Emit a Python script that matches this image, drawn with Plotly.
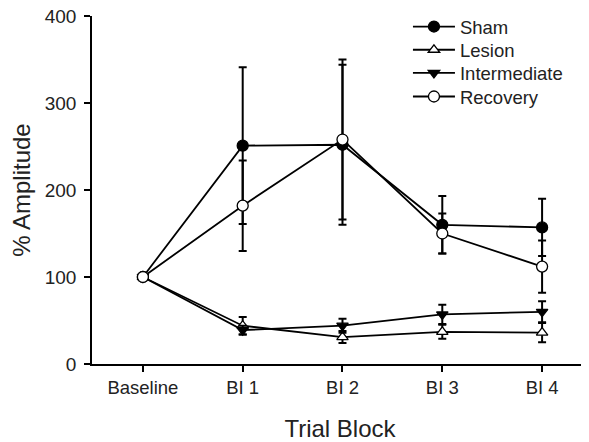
import plotly.graph_objects as go

categories = ["Baseline", "BI 1", "BI 2", "BI 3", "BI 4"]
x_pos = [0, 1, 2, 3, 4]

sham = [100, 251, 252, 160, 157]
sham_err = [0, 90, 92, 33, 33]

lesion = [100, 44, 31, 37, 36]
lesion_err = [0, 10, 7, 8, 11]

intermediate = [100, 39, 44, 57, 60]
intermediate_err = [0, 5, 8, 11, 12]

recovery = [100, 182, 258, 150, 112]
recovery_err = [0, 52, 92, 23, 30]

y_ticks = [0, 100, 200, 300, 400]

series = [
    ("Sham", sham, sham_err, "circle", "black"),
    ("Lesion", lesion, lesion_err, "triangle-up", "white"),
    ("Intermediate", intermediate, intermediate_err, "triangle-down", "black"),
    ("Recovery", recovery, recovery_err, "circle", "white"),
]

font_family = "Liberation Sans, Arial, sans-serif"
legend_ids = ["legend", "legend2", "legend3", "legend4"]
legend_y = [1.0215, 0.9535, 0.887, 0.8195]

fig = go.Figure()
for (name, vals, errs, sym, fill), lid in zip(series, legend_ids):
    fig.add_trace(go.Scatter(
        x=x_pos, y=vals, name=name, mode="lines+markers",
        legend=lid,
        line=dict(color="black", width=1.8),
        marker=dict(symbol=sym, size=11 if sym == "circle" else 10, color=fill,
                    line=dict(color="black", width=1.3)),
        error_y=dict(type="data", array=errs, visible=True, color="black",
                     thickness=2, width=4),
    ))

legend_layout = {}
for lid, ly in zip(legend_ids, legend_y):
    legend_layout[lid] = dict(
        x=0.637, y=ly, xanchor="left", yanchor="top",
        font=dict(size=18.5, family=font_family, color="#222"),
        bgcolor="rgba(0,0,0,0)", itemwidth=42)

fig.update_layout(
    width=581, height=434,
    margin=dict(l=84, r=1, t=7, b=78),
    paper_bgcolor="white", plot_bgcolor="white",
    font=dict(family=font_family, color="#222", size=19),
    showlegend=True,
    xaxis=dict(range=[-0.51, 4.46], tickmode="array", tickvals=x_pos,
               ticktext=categories, showline=True, linecolor="black",
               linewidth=1.5, ticks="outside", ticklen=6, tickwidth=1.5,
               tickcolor="black", showgrid=False, zeroline=False,
               automargin=False, tickfont=dict(size=18.5),
               ticklabeloverflow="allow",
               title=dict(text="Trial Block", font=dict(size=24), standoff=25)),
    yaxis=dict(range=[0, 400], tickmode="array", tickvals=y_ticks,
               showline=True, linecolor="black", linewidth=1.5,
               ticks="outside", ticklen=6, tickwidth=1.5, tickcolor="black",
               showgrid=False, zeroline=False, automargin=False,
               ticklabelstandoff=4, tickfont=dict(size=19),
               ticklabeloverflow="allow",
               title=dict(text="% Amplitude", font=dict(size=24), standoff=13)),
    **legend_layout,
)

fig.write_html("out.html")
